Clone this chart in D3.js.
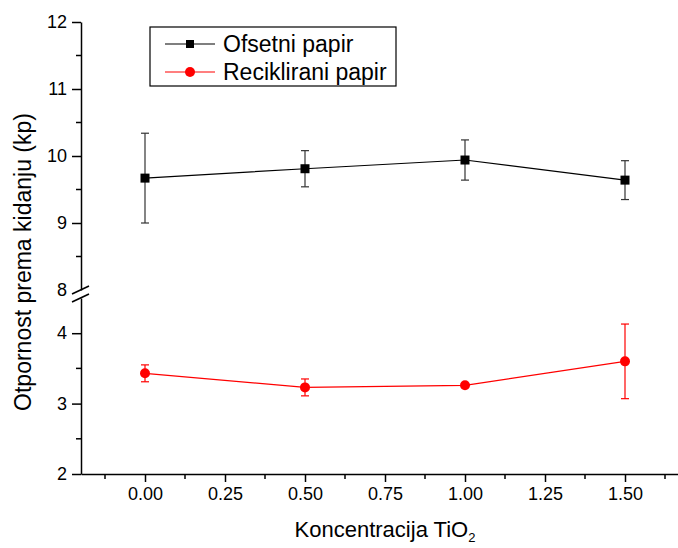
<!DOCTYPE html>
<html>
<head>
<meta charset="utf-8">
<script src="https://cdn.jsdelivr.net/npm/d3@7"></script>
<style>
  html, body { margin: 0; padding: 0; background: #fff; }
  svg { display: block; }
  text { font-family: "Liberation Sans", Arial, sans-serif; fill: #000; }
</style>
</head>
<body>
<svg id="chart" width="678" height="548"></svg>
<script>
// ---- data ----
const concentrations = [0.00, 0.50, 1.00, 1.50];
const ofsetniMean = [9.67, 9.81, 9.94, 9.64];
const ofsetniErr  = [0.67, 0.27, 0.30, 0.29];
const recikMean   = [3.43, 3.23, 3.26, 3.60];
const recikErr    = [0.12, 0.12, 0.02, 0.53];
const seriesNames = ["Ofsetni papir", "Reciklirani papir"];
const xTickValues = [0.00, 0.25, 0.50, 0.75, 1.00, 1.25, 1.50];
const yUpperTicks = [8, 9, 10, 11, 12];
const yLowerTicks = [2, 3, 4];

// ---- layout ----
const svg = d3.select("#chart");
const x = d3.scaleLinear().domain([-0.2, 1.7]).range([81, 689]);
const yUp = d3.scaleLinear().domain([8, 12]).range([290, 22]);
const yLo = d3.scaleLinear().domain([2, 4.5]).range([474, 298]);
const axisX = 81, axisY = 474;

// x axis
const gx = svg.append("g").attr("transform", `translate(0,${axisY})`);
gx.call(d3.axisBottom(x).tickValues(xTickValues).tickFormat(d3.format(".2f")).tickSize(8).tickPadding(5).tickSizeOuter(0));
gx.select(".domain").attr("stroke-width", 1.5);
gx.selectAll(".tick line").attr("stroke-width", 1.5);
gx.selectAll(".tick text").attr("font-size", 18).attr("font-family", "Liberation Sans, Arial, sans-serif");
const xMinor = d3.range(-0.125, 1.7, 0.25);
svg.append("g").selectAll("line").data(xMinor).join("line")
  .attr("x1", d => x(d)).attr("x2", d => x(d))
  .attr("y1", axisY).attr("y2", axisY + 5)
  .attr("stroke", "#000").attr("stroke-width", 1.5);

// y axis upper
const gyU = svg.append("g").attr("transform", `translate(${axisX},0)`);
gyU.call(d3.axisLeft(yUp).tickValues(yUpperTicks).tickFormat(d3.format("d")).tickSize(9).tickPadding(5).tickSizeOuter(0));
gyU.select(".domain").attr("stroke-width", 1.5);
gyU.selectAll(".tick line").attr("stroke-width", 1.5);
gyU.selectAll(".tick text").attr("font-size", 18);
gyU.selectAll(".tick").filter(d => d === 8).select("line").remove();
svg.append("g").selectAll("line").data([8.5, 9.5, 10.5, 11.5]).join("line")
  .attr("x1", axisX - 5).attr("x2", axisX)
  .attr("y1", d => yUp(d)).attr("y2", d => yUp(d))
  .attr("stroke", "#000").attr("stroke-width", 1.5);

// y axis lower
const gyL = svg.append("g").attr("transform", `translate(${axisX},0)`);
gyL.call(d3.axisLeft(yLo).tickValues(yLowerTicks).tickFormat(d3.format("d")).tickSize(9).tickPadding(5).tickSizeOuter(0));
gyL.select(".domain").attr("stroke-width", 1.5);
gyL.selectAll(".tick line").attr("stroke-width", 1.5);
gyL.selectAll(".tick text").attr("font-size", 18);
svg.append("g").selectAll("line").data([2.5, 3.5]).join("line")
  .attr("x1", axisX - 5).attr("x2", axisX)
  .attr("y1", d => yLo(d)).attr("y2", d => yLo(d))
  .attr("stroke", "#000").attr("stroke-width", 1.5);

// break marks
const brk = svg.append("g").attr("stroke", "#000").attr("stroke-width", 1.5);
[yUp(8), yLo(4.5)].forEach(yy => {
  brk.append("line").attr("x1", axisX - 9).attr("y1", yy + 4).attr("x2", axisX + 8).attr("y2", yy - 4);
});

// axis titles
const xt = svg.append("text").attr("x", x(0.75)).attr("y", 537).attr("text-anchor", "middle").attr("font-size", 22);
xt.append("tspan").text("Koncentracija TiO");
xt.append("tspan").attr("font-size", 13).attr("dy", 5).text("2");

svg.append("text")
  .attr("transform", `translate(23,${262}) rotate(-90)`)
  .attr("text-anchor", "middle").attr("dominant-baseline", "central")
  .attr("font-size", 23).text("Otpornost prema kidanju (kp)");

// ---- series ----
function drawSeries(means, errs, yScale, color, errColor, shape) {
  const g = svg.append("g");
  const pts = concentrations.map((c, i) => ({ c, m: means[i], e: errs[i] }));
  g.append("path").datum(pts)
    .attr("fill", "none").attr("stroke", color).attr("stroke-width", 1.2)
    .attr("d", d3.line().x(d => x(d.c)).y(d => yScale(d.m)));
  const eb = g.append("g").attr("stroke", errColor).attr("stroke-width", 1.2);
  pts.forEach(d => {
    eb.append("line").attr("x1", x(d.c)).attr("x2", x(d.c)).attr("y1", yScale(d.m - d.e)).attr("y2", yScale(d.m + d.e));
    [d.m - d.e, d.m + d.e].forEach(v => {
      eb.append("line").attr("x1", x(d.c) - 4).attr("x2", x(d.c) + 4).attr("y1", yScale(v)).attr("y2", yScale(v));
    });
  });
  if (shape === "square") {
    g.selectAll("rect.m").data(pts).join("rect").attr("class", "m")
      .attr("x", d => x(d.c) - 4.5).attr("y", d => yScale(d.m) - 4.5)
      .attr("width", 9).attr("height", 9).attr("fill", color);
  } else {
    g.selectAll("circle.m").data(pts).join("circle").attr("class", "m")
      .attr("cx", d => x(d.c)).attr("cy", d => yScale(d.m)).attr("r", 5).attr("fill", color);
  }
}
drawSeries(ofsetniMean, ofsetniErr, yUp, "#000", "#333", "square");
drawSeries(recikMean, recikErr, yLo, "#ff0000", "#ff0000", "circle");

// ---- legend ----
const lg = svg.append("g");
lg.append("rect").attr("x", 150).attr("y", 27).attr("width", 246).attr("height", 59)
  .attr("fill", "#fff").attr("stroke", "#000").attr("stroke-width", 1.2);
const rows = [
  { name: seriesNames[0], color: "#000", shape: "square", y: 44 },
  { name: seriesNames[1], color: "#ff0000", shape: "circle", y: 72 }
];
rows.forEach(r => {
  lg.append("line").attr("x1", 165).attr("x2", 215).attr("y1", r.y).attr("y2", r.y).attr("stroke", r.color).attr("stroke-width", 1.2);
  if (r.shape === "square") lg.append("rect").attr("x", 186).attr("y", r.y - 4).attr("width", 8).attr("height", 8).attr("fill", r.color);
  else lg.append("circle").attr("cx", 190).attr("cy", r.y).attr("r", 5).attr("fill", r.color);
  lg.append("text").attr("x", 223).attr("y", r.y + 8).attr("font-size", 23).text(r.name);
});
</script>
</body>
</html>
